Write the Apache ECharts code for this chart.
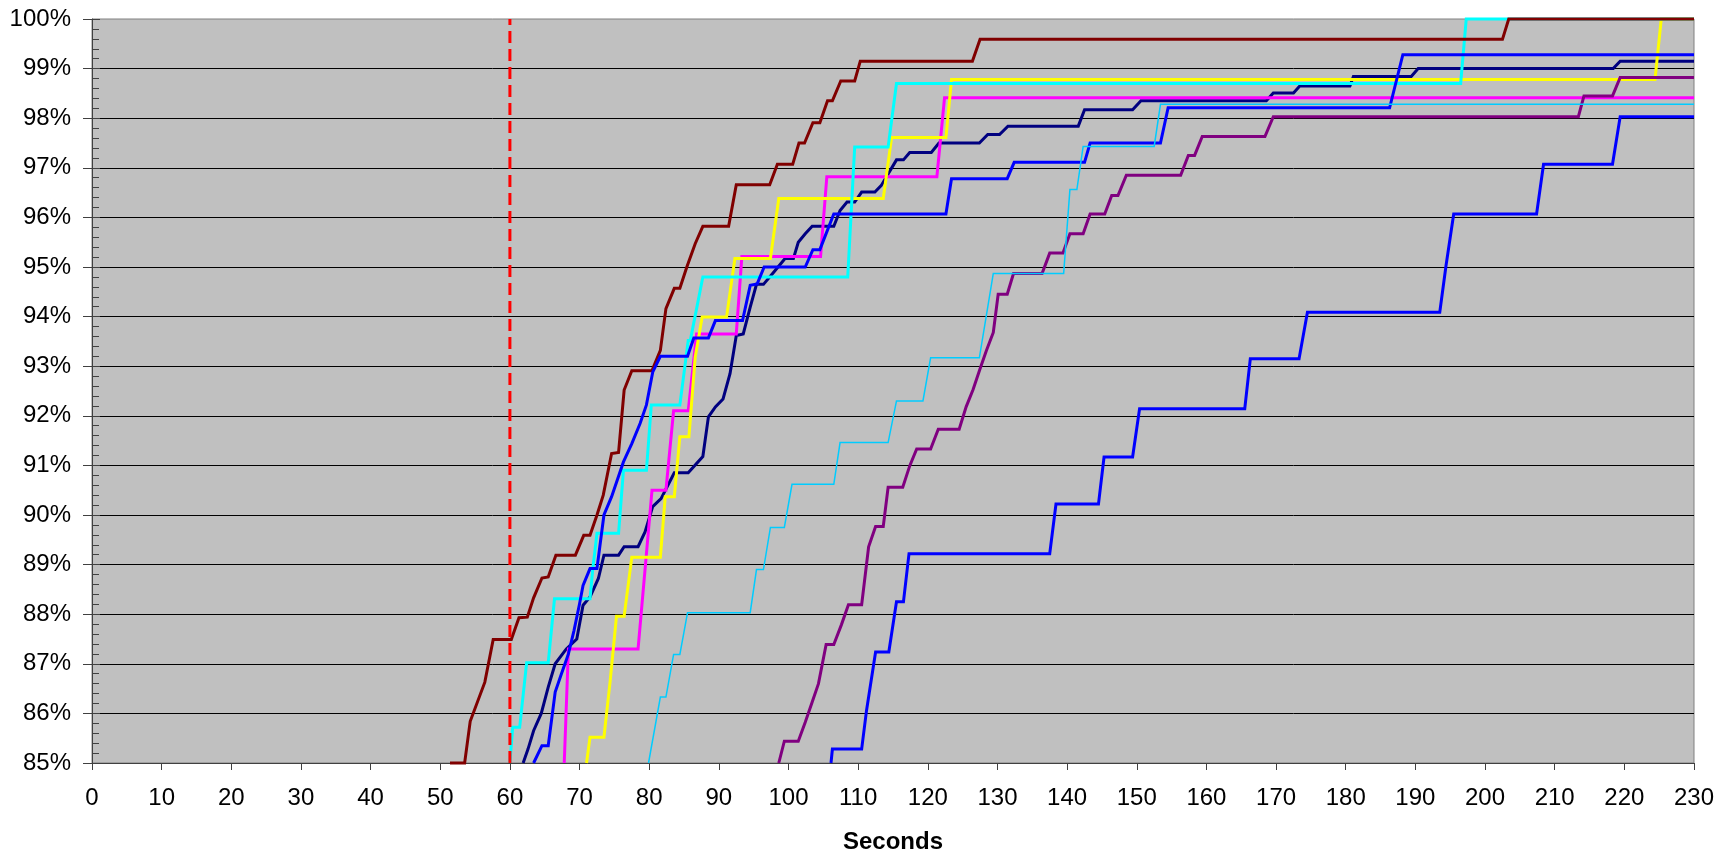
<!DOCTYPE html>
<html>
<head>
<meta charset="utf-8">
<script src="https://cdn.jsdelivr.net/npm/echarts@6/dist/echarts.min.js"></script>
<style>
html,body{margin:0;padding:0;background:#fff;}
#chart{width:1732px;height:851px;}
</style>
</head>
<body>
<div id="chart"></div>
<script>
// x = seconds, y = percent
var xTicks = {min: 0, max: 230, interval: 10};
var yTicks = {min: 85, max: 100, interval: 1};
var xAxisTitle = 'Seconds';
var thresholdLine = [[60, 85], [60, 100]];

var navy = [[61.9,85],[62.6,85.28],[63.4,85.65],[64.5,86.0],[65.5,86.53],[66.5,87.0],[68.1,87.3],[69.6,87.5],[70.5,88.18],[71.5,88.35],[72.7,88.72],[73.5,89.19],[75.6,89.19],[76.4,89.36],[78.4,89.36],[79.4,89.66],[80.5,90.17],[81.7,90.33],[83.6,90.85],[85.6,90.85],[87.7,91.18],[88.5,91.98],[89.5,92.18],[90.6,92.34],[91.6,92.85],[92.5,93.62],[93.5,93.65],[94.5,94.19],[95.4,94.65],[96.4,94.65],[97.9,94.9],[99.5,95.17],[100.7,95.17],[101.4,95.5],[102.4,95.67],[103.4,95.82],[106.5,95.82],[107.4,96.14],[108.4,96.31],[109.5,96.31],[110.5,96.51],[112.4,96.51],[113.3,96.64],[115.5,97.16],[116.5,97.16],[117.4,97.31],[120.5,97.31],[121.6,97.5],[127.4,97.5],[128.6,97.67],[130.3,97.67],[131.5,97.84],[141.6,97.84],[142.5,98.17],[149.4,98.17],[150.6,98.35],[168.6,98.35],[169.6,98.51],[172.5,98.51],[173.4,98.65],[180.6,98.65],[181.1,98.84],[189.4,98.84],[190.4,99.0],[218.4,99.0],[219.4,99.15],[230,99.15]];

var magenta = [[67.8,85],[68.4,87.3],[78.4,87.3],[80.4,90.5],[82.4,90.5],[83.5,92.1],[85.6,92.1],[86.8,93.65],[92.5,93.65],[93.3,95.21],[104.6,95.21],[105.5,96.82],[121.3,96.82],[122.4,98.41],[230,98.41]];

var yellow = [[71.0,85],[71.5,85.52],[73.5,85.52],[74.4,86.66],[75.3,87.96],[76.4,87.96],[77.5,89.15],[81.6,89.15],[82.3,90.37],[83.6,90.37],[84.4,91.58],[85.7,91.58],[86.6,93.18],[87.6,93.99],[91.1,93.99],[92.3,95.17],[97.4,95.17],[98.6,96.38],[113.6,96.38],[114.8,97.61],[122.6,97.61],[123.4,98.78],[224.4,98.78],[225.3,100],[230,100]];

var cyan = [[60,85],[60.4,85.72],[61.4,85.72],[62.4,87.02],[65.5,87.02],[66.4,88.31],[71.5,88.31],[71.9,88.92],[72.5,89.63],[75.6,89.63],[76.3,90.9],[79.6,90.9],[80.3,92.22],[84.4,92.22],[85.6,93.52],[85.9,93.52],[87.7,94.8],[108.5,94.8],[109.5,97.42],[114.3,97.42],[115.5,98.7],[196.5,98.7],[197.3,100],[230,100]];

var purple = [[98.6,85],[99.4,85.44],[101.4,85.44],[102.4,85.82],[103.4,86.23],[104.3,86.6],[105.4,87.39],[106.5,87.39],[107.6,87.79],[108.6,88.19],[110.5,88.19],[111.5,89.36],[112.5,89.77],[113.6,89.77],[114.3,90.56],[116.4,90.56],[117.4,90.99],[118.4,91.33],[120.4,91.33],[121.5,91.73],[124.5,91.73],[125.5,92.18],[126.5,92.53],[127.5,92.95],[128.4,93.31],[129.4,93.68],[130.1,94.45],[131.4,94.45],[132.3,94.87],[136.4,94.87],[137.5,95.28],[139.4,95.28],[140.4,95.67],[142.3,95.67],[143.3,96.07],[145.4,96.07],[146.4,96.44],[147.3,96.44],[148.5,96.85],[156.3,96.85],[157.4,97.25],[158.3,97.25],[159.4,97.63],[168.4,97.63],[169.6,98.03],[213.4,98.03],[214.2,98.45],[218.3,98.45],[219.4,98.82],[230,98.82]];

var maroon = [[51.4,85],[53.5,85],[54.3,85.84],[56.4,86.63],[57.6,87.49],[60.2,87.49],[61.3,87.93],[62.5,87.94],[63.4,88.33],[64.6,88.73],[65.5,88.75],[66.6,89.19],[69.4,89.19],[70.6,89.59],[71.5,89.59],[72.5,90.0],[73.4,90.4],[74.6,91.24],[75.6,91.26],[76.4,92.52],[77.5,92.91],[80.4,92.91],[81.6,93.32],[82.4,94.16],[83.6,94.57],[84.4,94.57],[85.4,95.0],[86.6,95.47],[87.7,95.82],[91.4,95.82],[92.5,96.66],[97.3,96.66],[98.4,97.07],[100.6,97.07],[101.5,97.5],[102.3,97.5],[103.5,97.91],[104.5,97.91],[105.6,98.35],[106.3,98.35],[107.5,98.75],[109.5,98.75],[110.3,99.15],[126.4,99.15],[127.5,99.59],[202.5,99.59],[203.4,100],[230,100]];

var blue1 = [[63.4,85],[64.6,85.35],[65.5,85.35],[66.5,86.43],[67.4,86.8],[68.4,87.2],[69.2,87.67],[70.0,88.21],[70.5,88.58],[71.5,88.92],[72.5,88.92],[73.5,90.0],[74.6,90.37],[76.3,91.07],[77.5,91.44],[78.7,91.85],[79.6,92.22],[80.5,92.88],[81.6,93.2],[85.5,93.2],[86.4,93.57],[88.5,93.57],[89.5,93.92],[93.4,93.92],[94.5,94.63],[95.5,94.66],[96.5,95.0],[102.4,95.0],[103.5,95.35],[104.5,95.35],[106.5,96.07],[122.6,96.07],[123.4,96.78],[131.4,96.78],[132.4,97.11],[142.5,97.11],[143.3,97.5],[153.4,97.5],[154.5,98.21],[186.3,98.21],[188.2,99.28],[230,99.28]];

var skyblue = [[79.9,85],[81.6,86.33],[82.4,86.33],[83.5,87.19],[84.4,87.19],[85.5,88.03],[94.5,88.03],[95.4,88.9],[96.4,88.9],[97.4,89.75],[99.4,89.75],[100.5,90.62],[106.5,90.62],[107.4,91.46],[114.3,91.46],[115.5,92.3],[119.3,92.3],[120.4,93.17],[127.4,93.17],[129.4,94.87],[139.5,94.87],[140.4,96.56],[141.4,96.56],[142.3,97.43],[152.5,97.43],[153.4,98.28],[230,98.28]];

var blue2 = [[106.1,85],[106.3,85.28],[110.5,85.28],[111.2,86.06],[112.5,87.24],[114.4,87.24],[115.5,88.25],[116.5,88.25],[117.3,89.22],[137.5,89.22],[138.4,90.22],[144.5,90.22],[145.3,91.17],[149.4,91.17],[150.4,92.14],[165.5,92.14],[166.3,93.15],[173.3,93.15],[174.5,94.09],[193.5,94.09],[194.4,95.03],[195.5,96.07],[207.4,96.07],[208.4,97.07],[218.3,97.07],[219.4,98.03],[230,98.03]];

var FONT = 'Arial, "Liberation Sans", sans-serif';

function lineSeries(data, color, width) {
  return {
    type: 'line', data: data, symbol: 'none', clip: false,
    lineStyle: {color: color, width: width, join: 'miter'},
    itemStyle: {color: color},
    emphasis: {disabled: true}, silent: true
  };
}

var chart = echarts.init(document.getElementById('chart'), null, {renderer: 'canvas'});
chart.setOption({
  animation: false,
  backgroundColor: '#ffffff',
  grid: {left: 92, right: 38, top: 19, bottom: 88, show: true, containLabel: false,
         outerBoundsMode: 'none',
         backgroundColor: '#C0C0C0', borderColor: '#808080', borderWidth: 1},
  xAxis: {
    type: 'value', min: xTicks.min, max: xTicks.max, interval: xTicks.interval,
    name: xAxisTitle, nameLocation: 'middle', nameGap: 67,
    nameTextStyle: {fontFamily: FONT, fontSize: 24, fontWeight: 'bold', color: '#000'},
    axisLine: {show: true, onZero: false, lineStyle: {color: '#404040', width: 1}},
    axisTick: {show: true, length: 7, lineStyle: {color: '#404040'}},
    axisLabel: {fontFamily: FONT, fontSize: 24, color: '#000', margin: 23},
    splitLine: {show: false}
  },
  yAxis: [{
    type: 'value', min: yTicks.min, max: yTicks.max, interval: yTicks.interval,
    position: 'left',
    axisLine: {show: true, lineStyle: {color: '#404040', width: 1}},
    axisTick: {show: true, length: 9, lineStyle: {color: '#404040'}},
    axisLabel: {fontFamily: FONT, fontSize: 24, color: '#000', margin: 21,
                formatter: '{value}%'},
    splitLine: {show: true, showMaxLine: false, lineStyle: {color: '#000', width: 1}}
  }, {
    type: 'value', min: yTicks.min, max: yTicks.max, interval: yTicks.interval,
    position: 'left', offset: 0,
    axisLine: {show: false},
    axisTick: {show: true, inside: true, length: 8, lineStyle: {color: '#404040'}},
    minorTick: {show: true, splitNumber: 5, length: 7, lineStyle: {color: '#404040'}},
    axisLabel: {show: false},
    splitLine: {show: false}
  }],
  series: [
    lineSeries(navy, '#000080', 3),
    lineSeries(magenta, '#FF00FF', 3),
    lineSeries(yellow, '#FFFF00', 3),
    lineSeries(cyan, '#00FFFF', 3),
    lineSeries(purple, '#800080', 3),
    lineSeries(maroon, '#800000', 3),
    lineSeries(blue1, '#0000FF', 3),
    lineSeries(skyblue, '#00CCFF', 1.5),
    lineSeries(blue2, '#0000FF', 3),
    {
      type: 'line', data: thresholdLine, symbol: 'none', clip: false, silent: true,
      lineStyle: {color: '#FF0000', width: 3, type: [12, 6]}
    }
  ]
});
</script>
</body>
</html>
